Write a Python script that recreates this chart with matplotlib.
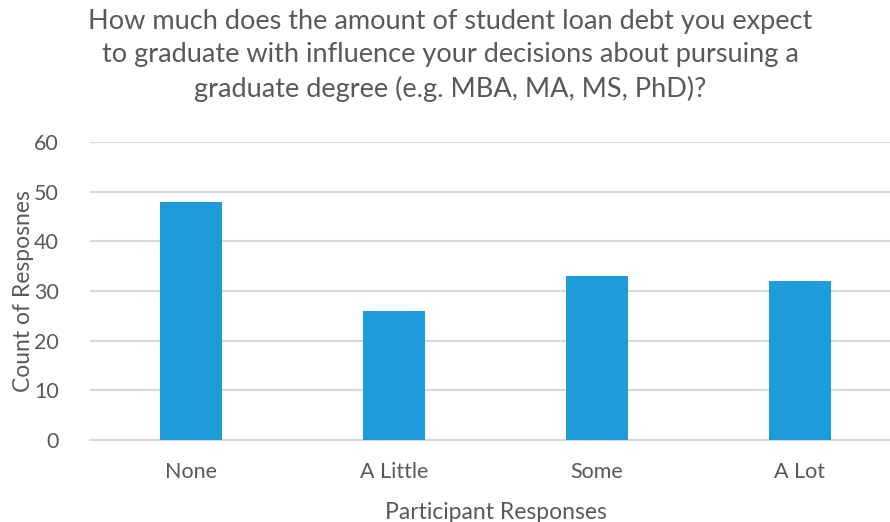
import matplotlib.pyplot as plt

# Survey responses
categories = ["None", "A Little", "Some", "A Lot"]
counts = [48, 26, 33, 32]
y_ticks = [0, 10, 20, 30, 40, 50, 60]

title = ("How much does the amount of student loan debt you expect\n"
         "to graduate with influence your decisions about pursuing a\n"
         "graduate degree (e.g. MBA, MA, MS, PhD)?")

plt.rcParams["font.family"] = ["Lato", "DejaVu Sans"]
text_color = "#595959"

fig = plt.figure(figsize=(8.9, 5.22), dpi=100)
ax = fig.add_axes([89.5 / 890, 82 / 522, 812 / 890, 298 / 522])

x = range(len(categories))
ax.bar(x, counts, width=0.31, color="#1E9CD9", zorder=3)

ax.set_xlim(-0.5, len(categories) - 0.5)
ax.set_ylim(0, 60)
ax.set_yticks(y_ticks)
ax.set_xticks(list(x))
ax.set_xticklabels(categories)

ax.grid(axis="y", color="#D9D9D9", linewidth=1.5, zorder=0)
for side in ["top", "right", "left"]:
    ax.spines[side].set_visible(False)
ax.spines["bottom"].set_color("#D9D9D9")
ax.spines["bottom"].set_linewidth(1.5)
ax.tick_params(axis="both", length=0, labelsize=15.5, colors=text_color)
ax.tick_params(axis="y", pad=22)
ax.tick_params(axis="x", pad=16)

ax.set_xlabel("Participant Responses", fontsize=16.5, color=text_color, labelpad=14)
ax.set_ylabel("Count of Resposnes", fontsize=16.5, color=text_color)
# keep the rotated label inside the figure
ax.yaxis.set_label_coords(-56 / 812, 0.5)

fig.text(0.506, 0.982, title, ha="center", va="top", fontsize=19.5,
         color=text_color, linespacing=1.4)

fig.savefig("out.png", dpi=100)
